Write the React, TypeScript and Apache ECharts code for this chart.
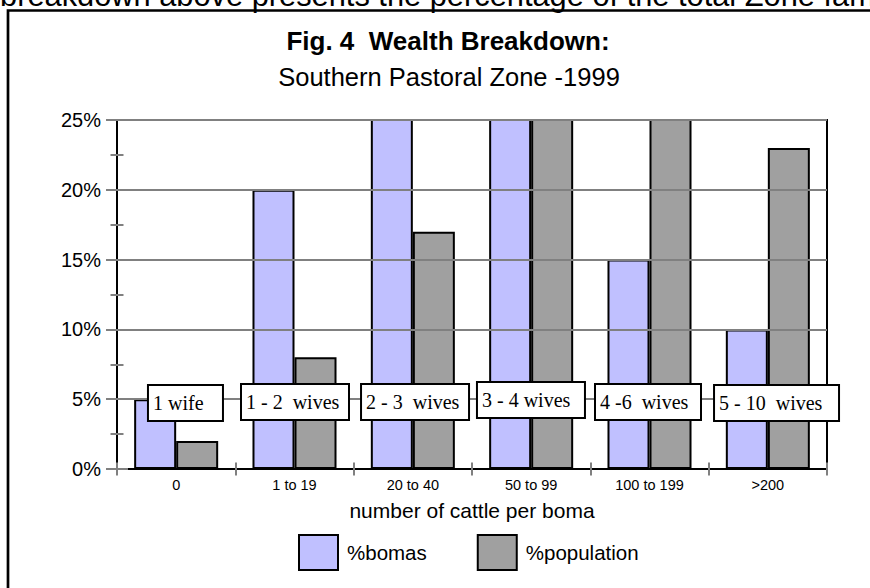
import React, { useEffect, useRef } from 'react';
import * as echarts from 'echarts';

// ---- data ----
const categories = ['0', '1 to 19', '20 to 40', '50 to 99', '100 to 199', '>200'];
const bomas = [5, 20, 27, 27, 15, 10];
const population = [2, 8, 17, 28, 29, 23];
const seriesNames = ['%bomas', '%population'];
const wivesLabels = ['1 wife', '1 - 2  wives', '2 - 3  wives', '3 - 4 wives', '4 -6  wives', '5 - 10  wives'];
const wivesLevel = [4.8, 4.8, 4.8, 4.8, 4.8, 4.8];
const yMin = 0;
const yMax = 25;
const yInterval = 5;

const topText = 'breakdown above presents the percentage of the total Zone families';
const titleText = 'Fig. 4  Wealth Breakdown:';
const subtitleText = 'Southern Pastoral Zone -1999';
const xAxisName = 'number of cattle per boma';

// ---- styles (box width, x/y offset of each annotation box) ----
const boxStyle = [
  { w: 65, dx: -27.2, dy: 1 },
  { w: 98, dx: -52.5, dy: 0 },
  { w: 98, dx: -50.8, dy: 0 },
  { w: 98, dx: -53.2, dy: -2 },
  { w: 96, dx: -53.5, dy: 0 },
  { w: 115, dx: -52.8, dy: 1 },
];

const SANS = '"Liberation Sans", Arial, sans-serif';
const SERIF = '"Liberation Serif", "Times New Roman", serif';

function buildOption() {
  return {
    animation: false,
    backgroundColor: '#fff',
    graphic: [
      {
        type: 'rect',
        silent: true,
        shape: { x: 8, y: 10.5, width: 864, height: 590 },
        style: { fill: 'none', stroke: '#000', lineWidth: 2.7 },
      },
      {
        type: 'text',
        silent: true,
        x: 0,
        y: -4.7,
        style: {
          text: topText,
          font: '30.8px ' + SANS,
          fill: '#000',
          align: 'left',
          verticalAlign: 'middle',
          textAlign: 'left',
          textVerticalAlign: 'middle',
        },
      },
      {
        type: 'text',
        silent: true,
        x: 448,
        y: 41,
        style: {
          text: titleText,
          font: 'bold 26px ' + SANS,
          fill: '#000',
          align: 'center',
          verticalAlign: 'middle',
          textAlign: 'center',
          textVerticalAlign: 'middle',
        },
      },
      {
        type: 'text',
        silent: true,
        x: 449,
        y: 77,
        style: {
          text: subtitleText,
          font: '25.5px ' + SANS,
          fill: '#000',
          align: 'center',
          verticalAlign: 'middle',
          textAlign: 'center',
          textVerticalAlign: 'middle',
        },
      },
    ],
    grid: {
      left: 117,
      right: 43,
      top: 120,
      bottom: 119,
      show: true,
      borderColor: '#000',
      borderWidth: 2,
      backgroundColor: 'transparent',
      z: 5,
    },
    legend: {
      data: seriesNames,
      left: 298,
      top: 534,
      padding: 0,
      itemWidth: 39,
      itemHeight: 35,
      itemGap: 50,
      icon: 'rect',
      itemStyle: { borderColor: '#000', borderWidth: 2 },
      textStyle: { fontSize: 20.5, color: '#000', fontFamily: SANS, padding: [0, 0, 0, 4] },
    },
    xAxis: [
      {
        type: 'category',
        position: 'bottom',
        data: categories,
        axisLine: { show: true, lineStyle: { color: '#000', width: 2 } },
        axisTick: { show: false },
        axisLabel: { fontSize: 14.5, color: '#000', margin: 8, fontFamily: SANS, interval: 0 },
        name: xAxisName,
        nameLocation: 'middle',
        nameGap: 31,
        nameTextStyle: { fontSize: 21, color: '#000', fontFamily: SANS },
        z: 6,
      },
      {
        type: 'category',
        data: categories,
        position: 'bottom',
        offset: -6.5,
        axisLine: { show: false },
        axisTick: { show: true, interval: 0, length: 13, lineStyle: { color: '#808080', width: 2 } },
        axisLabel: { show: false },
        splitLine: { show: false },
        z: 7,
      },
    ],
    yAxis: [
      {
        type: 'value',
        position: 'left',
        min: yMin,
        max: yMax,
        interval: yInterval,
        axisLine: { show: true, lineStyle: { color: '#000', width: 2 } },
        axisTick: { show: false },
        axisLabel: { formatter: '{value}%', fontSize: 20, color: '#000', margin: 16, fontFamily: SANS },
        splitLine: { show: true, lineStyle: { color: '#808080', width: 2 } },
        z: 6,
      },
      {
        type: 'value',
        position: 'left',
        min: yMin,
        max: yMax,
        interval: yInterval,
        offset: -11,
        axisLine: { show: false },
        axisTick: { show: true, length: 22, lineStyle: { color: '#808080', width: 2 } },
        axisLabel: { show: false },
        splitLine: { show: false },
        z: 7,
      },
      {
        type: 'value',
        position: 'left',
        min: yMin,
        max: yMax,
        interval: yInterval,
        offset: -6.5,
        axisLine: { show: false },
        axisTick: { show: false },
        minorTick: { show: true, splitNumber: 2, length: 13, lineStyle: { color: '#808080', width: 2 } },
        axisLabel: { show: false },
        splitLine: { show: false },
        z: 7,
      },
    ],
    series: [
      {
        name: seriesNames[0],
        type: 'bar',
        data: bomas,
        xAxisIndex: 0,
        yAxisIndex: 0,
        barGap: '0%',
        barCategoryGap: '29%',
        clip: true,
        itemStyle: { color: '#C0C0FF', borderColor: '#000', borderWidth: 2 },
      },
      {
        name: seriesNames[1],
        type: 'bar',
        data: population,
        xAxisIndex: 0,
        yAxisIndex: 0,
        barGap: '0%',
        barCategoryGap: '29%',
        clip: true,
        itemStyle: { color: '#A0A0A0', borderColor: '#000', borderWidth: 2 },
      },
      {
        name: 'wives',
        type: 'scatter',
        xAxisIndex: 0,
        yAxisIndex: 0,
        symbolSize: 1,
        silent: true,
        z: 10,
        itemStyle: { color: 'rgba(0,0,0,0)', opacity: 1 },
        data: wivesLabels.map((t, i) => ({
          value: [i, wivesLevel[i]],
          label: {
            show: true,
            position: 'inside',
            formatter: t,
            align: 'left',
            verticalAlign: 'middle',
            width: boxStyle[i].w,
            offset: [boxStyle[i].dx, boxStyle[i].dy],
            padding: [7, 4, 7, 4],
            lineHeight: 20,
            fontSize: 20,
            fontFamily: SERIF,
            color: '#000',
            opacity: 1,
            backgroundColor: '#fff',
            borderColor: '#000',
            borderWidth: 2,
          },
        })),
      },
    ],
  };
}

export default function App() {
  const ref = useRef<HTMLDivElement>(null);
  useEffect(() => {
    document.body.style.margin = '0';
    const chart = echarts.init(ref.current as HTMLDivElement, null, { renderer: 'svg' });
    chart.setOption(buildOption() as any);
    return () => {
      chart.dispose();
    };
  }, []);
  return (
    <div
      ref={ref}
      style={{ position: 'fixed', left: 0, top: 0, width: 870, height: 588, background: '#fff', overflow: 'hidden' }}
    />
  );
}
